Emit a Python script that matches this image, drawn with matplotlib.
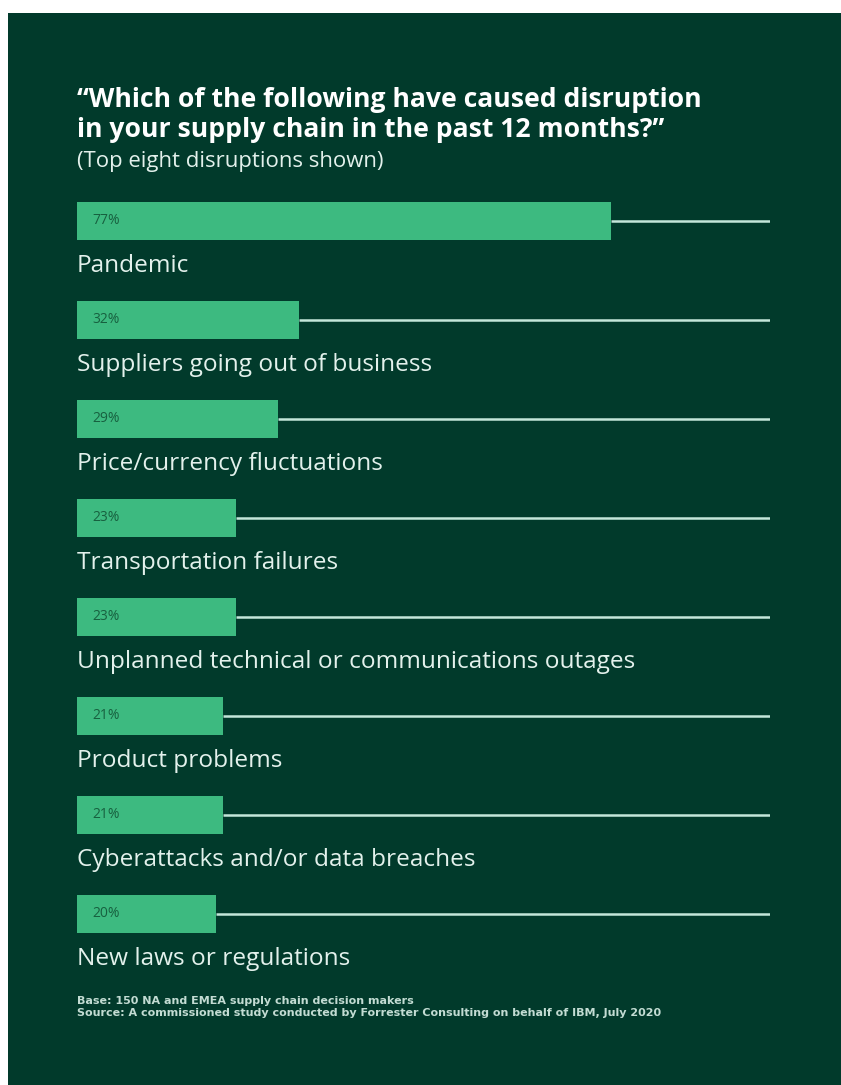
import matplotlib
matplotlib.use("Agg")
import matplotlib.pyplot as plt
from matplotlib.patches import Rectangle

categories = [
    "Pandemic",
    "Suppliers going out of business",
    "Price/currency fluctuations",
    "Transportation failures",
    "Unplanned technical or communications outages",
    "Product problems",
    "Cyberattacks and/or data breaches",
    "New laws or regulations",
]
values = [77, 32, 29, 23, 23, 21, 21, 20]
pct_labels = ["77%", "32%", "29%", "23%", "23%", "21%", "21%", "20%"]

title = "\u201cWhich of the following have caused disruption\nin your supply chain in the past 12 months?\u201d"
subtitle = "(Top eight disruptions shown)"
footer = ("Base: 150 NA and EMEA supply chain decision makers\n"
          "Source: A commissioned study conducted by Forrester Consulting on behalf of IBM, July 2020")

BG = "#013a2b"
BAR = "#3dba80"
LINE = "#c4e6da"
TXT = "#e3f1ec"
PCT = "#17603f"
FONT = ["Open Sans", "DejaVu Sans"]

W, H = 841, 1085
fig = plt.figure(figsize=(W / 100, H / 100), dpi=100)
fig.patch.set_facecolor("white")
fig.add_artist(Rectangle((8 / W, 0), 1 - 8 / W, 1 - 13 / H, transform=fig.transFigure,
                         facecolor=BG, edgecolor="none", zorder=0))

left_px, right_px = 77, 770
top_px, bot_px = 180, 980
ax = fig.add_axes([left_px / W, 1 - bot_px / H, (right_px - left_px) / W, (bot_px - top_px) / H])
ax.set_facecolor("none")
ax.set_xlim(0, 100)
ax.set_ylim(7.667, -0.414)
ax.axis("off")

ypos = list(range(len(categories)))
ax.hlines(ypos, values, 100, color=LINE, lw=1.8, zorder=1)
ax.barh(ypos, values, height=0.384, color=BAR, edgecolor="none", zorder=2)
for y, v, lab, cat in zip(ypos, values, pct_labels, categories):
    ax.text(2.2, y, lab, color=PCT, fontsize=10, va="center", ha="left",
            family=FONT, zorder=3)
    ax.text(0, y + 0.45, cat, color=TXT, fontsize=17.6, va="center", ha="left",
            family=FONT)

fig.text(77 / W, 1 - 100 / H, title.split("\n")[0], color="white", fontsize=19.1,
         fontweight="bold", va="center", ha="left", family=FONT)
fig.text(77 / W, 1 - 130 / H, title.split("\n")[1], color="white", fontsize=19.1,
         fontweight="bold", va="center", ha="left", family=FONT)
fig.text(77 / W, 1 - 161 / H, subtitle, color=TXT, fontsize=15.9, va="center",
         ha="left", family=FONT)
fig.text(77 / W, 1 - 1007 / H, footer, color="#c3dcd3", fontsize=8.0, va="center",
         ha="left", family=["DejaVu Sans"], fontweight="bold", linespacing=1.15)

fig.savefig("out.png", dpi=100, facecolor=fig.get_facecolor())
